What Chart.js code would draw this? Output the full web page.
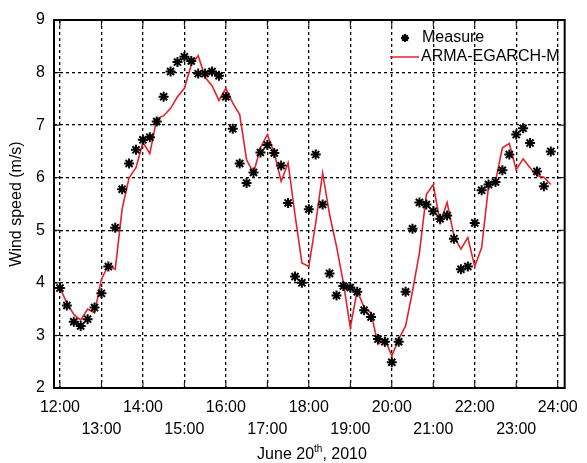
<!DOCTYPE html>
<html>
<head>
<meta charset="utf-8">
<script src="https://cdn.jsdelivr.net/npm/chart.js@4"></script>
<style>
  html, body { margin: 0; padding: 0; background: #fff; }
  #wrap { width: 587px; height: 463px; }
</style>
</head>
<body>
<div id="wrap"><canvas id="wind" width="587" height="463"></canvas></div>
<script>
// wind speed, June 20th 2010, 10-min samples from 12:00 to 23:50
const measure = [
  3.90, 3.57, 3.26, 3.18, 3.31, 3.53, 3.80, 4.31, 5.05, 5.78,
  6.27, 6.53, 6.72, 6.77, 7.07, 7.54, 8.02, 8.20, 8.30, 8.22,
  7.98, 7.98, 8.02, 7.94, 7.54, 6.93, 6.27, 5.90, 6.10, 6.48,
  6.62, 6.47, 6.23, 5.52, 4.12, 4.00, 5.40, 6.44, 5.49, 4.18,
  3.76, 3.94, 3.91, 3.83, 3.48, 3.35, 2.93, 2.88, 2.49, 2.88,
  3.83, 5.03, 5.53, 5.49, 5.36, 5.22, 5.28, 4.84, 4.26, 4.31,
  5.14, 5.76, 5.87, 5.92, 6.14, 6.44, 6.82, 6.94, 6.66, 6.12,
  5.84, 6.50
];
const model = [
  3.90, 3.62, 3.40, 3.29, 3.50, 3.43, 4.07, 4.33, 4.26, 5.41,
  6.00, 6.19, 6.67, 6.46, 7.12, 7.18, 7.32, 7.54, 7.70, 8.15,
  8.32, 7.91, 7.75, 7.47, 7.70, 7.42, 7.20, 6.34, 6.09, 6.57,
  6.82, 6.47, 5.93, 6.28, 5.30, 4.38, 4.31, 5.14, 6.09, 5.30,
  4.70, 4.00, 3.15, 3.85, 3.53, 3.43, 2.83, 2.93, 2.61, 2.93,
  3.18, 3.84, 4.57, 5.68, 5.87, 5.14, 5.53, 4.89, 4.64, 4.86,
  4.31, 4.67, 5.84, 5.93, 6.57, 6.65, 6.15, 6.36, 6.19, 6.04,
  6.01, 5.87
];
const tickHours = [12, 13, 14, 15, 16, 17, 18, 19, 20, 21, 22, 23, 24];
const yTicks = [2, 3, 4, 5, 6, 7, 8, 9];
const seriesNames = ['Measure', 'ARMA-EGARCH-M'];

// sample times in minutes since midnight
const minutes = measure.map((_, i) => 720 + 10 * i);

const FONT = "'Liberation Sans', Arial, sans-serif";
const RED = '#e3222b';

// box, inward ticks, legend and x title with superscript
const decor = {
  id: 'decor',
  afterDraw(chart) {
    const { ctx, chartArea: a, scales } = chart;
    ctx.save();
    ctx.strokeStyle = '#000';
    ctx.lineWidth = 1;
    ctx.beginPath();
    tickHours.forEach(h => {
      const x = scales.x.getPixelForValue(h * 60);
      ctx.moveTo(x, a.bottom); ctx.lineTo(x, a.bottom - 6);
      ctx.moveTo(x, a.top); ctx.lineTo(x, a.top + 6);
    });
    yTicks.forEach(v => {
      const y = scales.y.getPixelForValue(v);
      ctx.moveTo(a.left, y); ctx.lineTo(a.left + 6, y);
      ctx.moveTo(a.right, y); ctx.lineTo(a.right - 6, y);
    });
    ctx.stroke();

    ctx.lineWidth = 2;
    ctx.strokeRect(a.left, a.top, a.right - a.left, a.bottom - a.top);

    // legend
    ctx.fillStyle = '#000';
    ctx.font = '16px ' + FONT;
    ctx.textBaseline = 'middle';
    ctx.textAlign = 'left';
    Chart.helpers.drawPoint(ctx, { pointStyle: 'star', radius: 4, borderWidth: 2 }, 405, 38);
    ctx.fillText(seriesNames[0], 422, 38);
    ctx.strokeStyle = RED;
    ctx.lineWidth = 1.5;
    ctx.beginPath();
    ctx.moveTo(390, 57); ctx.lineTo(419, 57);
    ctx.stroke();
    ctx.fillText(seriesNames[1], 421, 57);

    // x title: June 20th, 2010
    const p1 = 'June 20', sup = 'th', p2 = ', 2010';
    ctx.font = '16px ' + FONT;
    const w1 = ctx.measureText(p1).width, w2 = ctx.measureText(p2).width;
    ctx.font = '10px ' + FONT;
    const ws = ctx.measureText(sup).width;
    let x = 312 - (w1 + ws + w2) / 2;
    const y = 455;
    ctx.font = '16px ' + FONT;
    ctx.fillText(p1, x, y);
    x += w1;
    ctx.font = '10px ' + FONT;
    ctx.fillText(sup, x, y - 6);
    x += ws;
    ctx.font = '16px ' + FONT;
    ctx.fillText(p2, x, y);
    ctx.restore();
  }
};

new Chart(document.getElementById('wind'), {
  type: 'line',
  data: {
    datasets: [
      {
        label: seriesNames[0],
        data: minutes.map((m, i) => ({ x: m, y: measure[i] })),
        showLine: false,
        pointStyle: 'star',
        pointRadius: 5,
        pointBorderWidth: 2,
        borderColor: '#000',
        backgroundColor: '#000'
      },
      {
        label: seriesNames[1],
        data: minutes.map((m, i) => ({ x: m, y: model[i] })),
        borderColor: RED,
        borderWidth: 1.6,
        pointRadius: 0,
        tension: 0
      }
    ]
  },
  options: {
    responsive: false,
    animation: false,
    layout: { padding: { left: 0, right: 21, top: 20, bottom: 0 } },
    plugins: {
      legend: { display: false },
      tooltip: { enabled: false }
    },
    scales: {
      x: {
        type: 'linear',
        min: 711.4,
        max: 1450.1,
        afterBuildTicks: s => { s.ticks = tickHours.map(h => ({ value: h * 60 })); },
        afterFit: s => { s.height = 75; },
        ticks: {
          color: '#000',
          padding: 9,
          maxRotation: 0,
          autoSkip: false,
          font: { family: FONT, size: 16, lineHeight: 1.375 },
          callback: v => {
            const h = Math.round(v / 60);
            const txt = h + ':00';
            return h % 2 === 0 ? txt : ['', txt];
          }
        },
        grid: { color: '#000', lineWidth: 1.3, drawTicks: false },
        border: { display: false, dash: [3, 3] }
      },
      y: {
        min: 2,
        max: 9,
        afterBuildTicks: s => { s.ticks = yTicks.map(v => ({ value: v })); },
        afterFit: s => { s.width = 54; },
        ticks: {
          color: '#000',
          padding: 9,
          font: { family: FONT, size: 16 }
        },
        grid: { color: '#000', lineWidth: 1.3, drawTicks: false },
        border: { display: false, dash: [3, 3] },
        title: {
          display: true,
          text: 'Wind speed (m/s)',
          color: '#000',
          padding: { top: 7, bottom: 0 },
          font: { family: FONT, size: 16 }
        }
      }
    }
  },
  plugins: [decor]
});
</script>
</body>
</html>
